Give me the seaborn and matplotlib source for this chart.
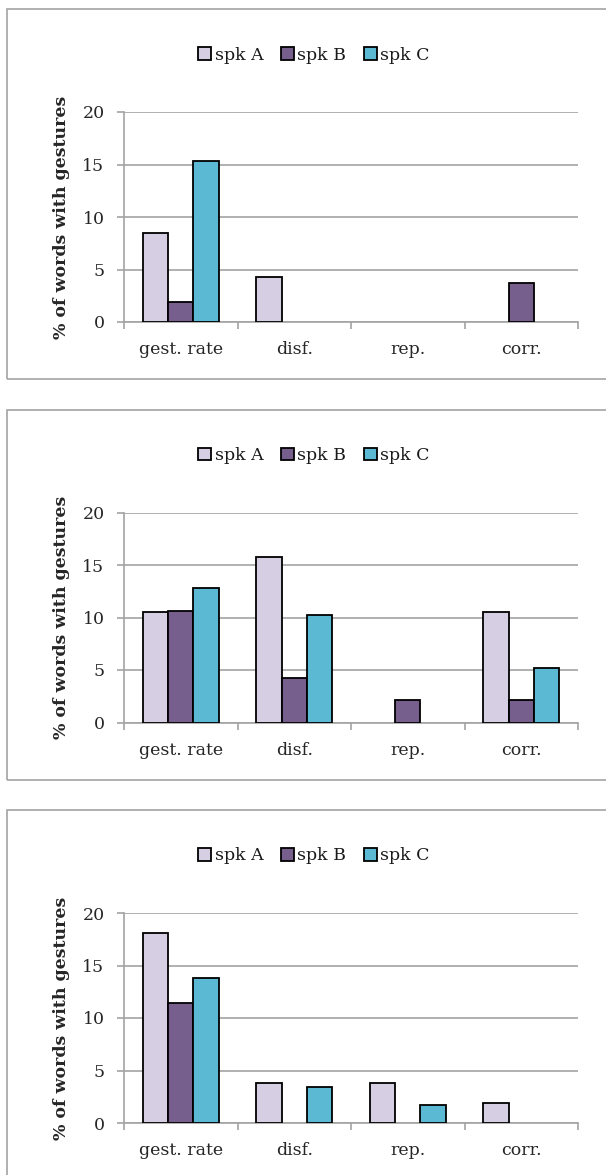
import matplotlib
matplotlib.use("Agg")
import matplotlib.pyplot as plt
from matplotlib.patches import Patch, Rectangle
import seaborn as sns
import pandas as pd

# ---------------- data ----------------
categories = ["gest. rate", "disf.", "rep.", "corr."]
speakers = ["spk A", "spk B", "spk C"]
colors = ["#D6CEE2", "#765F8C", "#5BB9D3"]
y_ticks = [0, 5, 10, 15, 20]
y_label = "% of words with gestures"

p1_spk_a = [8.5, 4.25, 0.0, 0.0]
p1_spk_b = [1.9, 0.0, 0.0, 3.7]
p1_spk_c = [15.3, 0.0, 0.0, 0.0]

p2_spk_a = [10.5, 15.8, 0.0, 10.55]
p2_spk_b = [10.6, 4.25, 2.1, 2.1]
p2_spk_c = [12.8, 10.25, 0.0, 5.15]

p3_spk_a = [18.05, 3.85, 3.85, 1.95]
p3_spk_b = [11.4, 0.0, 0.0, 0.0]
p3_spk_c = [13.8, 3.4, 1.7, 0.0]

panels = [
    [p1_spk_a, p1_spk_b, p1_spk_c],
    [p2_spk_a, p2_spk_b, p2_spk_c],
    [p3_spk_a, p3_spk_b, p3_spk_c],
]

# ---------------- style ----------------
sns.set_style("white")
plt.rcParams["font.family"] = ["DejaVu Serif"]
plt.rcParams["text.color"] = "#1a1a1a"

W, H = 606, 1175
fig = plt.figure(figsize=(W / 100, H / 100), dpi=100)
fig.patch.set_facecolor("white")

GRID = "#A3A3A3"
STEP = 400.5
FS = 12.5

for k, series in enumerate(panels):
    off = k * STEP
    # panel frame
    box_top, box_bot = 9 + off, 379 + off
    fig.add_artist(Rectangle((7 / W, 1 - box_bot / H), (620 - 7) / W, (box_bot - box_top) / H,
                             transform=fig.transFigure, facecolor="none",
                             edgecolor=GRID, linewidth=1.2))

    ax_top, ax_bot = 112 + off, 322 + off
    ax = fig.add_axes([124 / W, 1 - ax_bot / H, 454 / W, (ax_bot - ax_top) / H])
    ax.set_facecolor("none")

    rows = []
    for spk, vals in zip(speakers, series):
        for cat, v in zip(categories, vals):
            rows.append({"category": cat, "speaker": spk, "value": v})
    df = pd.DataFrame(rows)

    sns.barplot(data=df, x="category", y="value", hue="speaker",
                order=categories, hue_order=speakers, palette=colors,
                saturation=1, width=0.67, gap=0, edgecolor="black", linewidth=1.3,
                legend=False, ax=ax, zorder=3)
    for p in ax.patches:
        if p.get_height() == 0:
            p.set_linewidth(0)

    ax.set_ylim(0, 20)
    ax.set_xlim(-0.5, 3.5)
    ax.set_yticks(y_ticks)
    ax.set_yticklabels([str(t) for t in y_ticks], fontsize=FS)
    ax.yaxis.grid(True, color=GRID, linewidth=1.2, zorder=0)
    ax.set_axisbelow(True)

    ax.set_xticks([-0.5, 0.5, 1.5, 2.5, 3.5])
    ax.set_xticklabels([])
    ax.set_xticks(range(len(categories)), minor=True)
    ax.set_xticklabels(categories, minor=True, fontsize=FS)
    ax.tick_params(axis="x", which="major", length=5, width=1.2, color=GRID, direction="out", bottom=True)
    ax.tick_params(axis="x", which="minor", length=0, pad=14, bottom=True)
    ax.tick_params(axis="y", length=5, width=1.2, color=GRID, direction="out", left=True, pad=9)

    for s in ["top", "right"]:
        ax.spines[s].set_visible(False)
    for s in ["left", "bottom"]:
        ax.spines[s].set_color(GRID)
        ax.spines[s].set_linewidth(1.2)

    ax.set_xlabel("")
    ax.set_ylabel(y_label, fontsize=12.5, fontweight="bold", labelpad=9)

    handles = [Patch(facecolor=c, edgecolor="black", linewidth=1.3) for c in colors]
    fig.legend(handles, speakers, loc="center", ncol=3, frameon=False,
               bbox_to_anchor=(314 / W, 1 - (55 + off) / H),
               bbox_transform=fig.transFigure, fontsize=FS,
               handlelength=0.75, handleheight=0.75, handletextpad=0.2,
               columnspacing=1.0, borderpad=0, borderaxespad=0)

fig.savefig("out.png", dpi=100, facecolor="white")
